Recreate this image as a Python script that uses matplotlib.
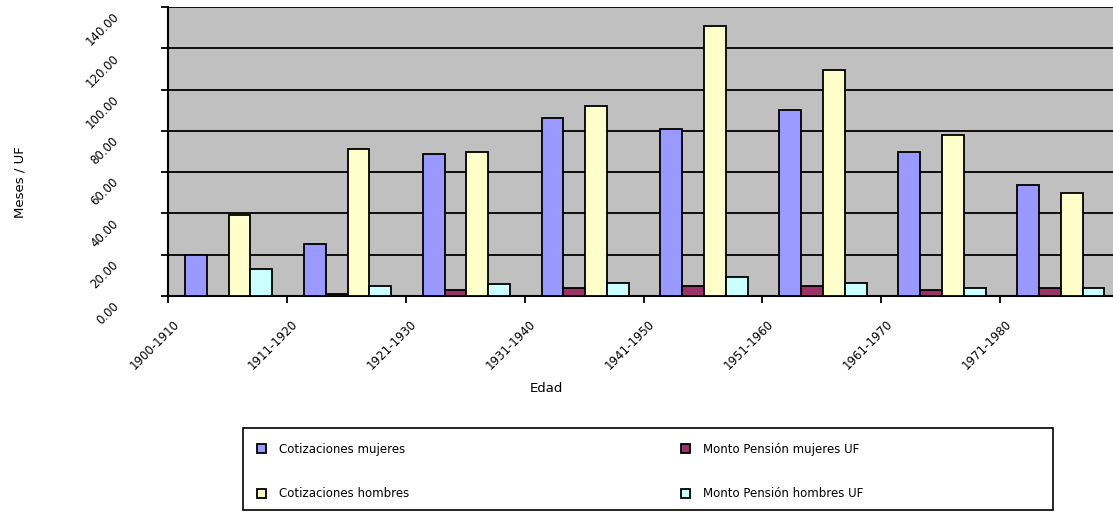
import numpy as np
import matplotlib.pyplot as plt
from matplotlib.patches import Rectangle
from matplotlib.transforms import ScaledTranslation

# age groups and the four series
grupos = ['1900-1910', '1911-1920', '1921-1930', '1931-1940',
          '1941-1950', '1951-1960', '1961-1970', '1971-1980']
cot_mujeres = [20.0, 25.0, 69.0, 86.0, 81.0, 90.0, 70.0, 54.0]
monto_mujeres = [0.0, 1.0, 3.0, 4.0, 5.0, 5.0, 3.0, 4.0]
cot_hombres = [39.0, 71.0, 70.0, 92.0, 131.0, 109.5, 78.0, 50.0]
monto_hombres = [13.3, 5.0, 6.0, 6.2, 9.0, 6.2, 4.0, 4.0]

series = [
    ('Cotizaciones mujeres', cot_mujeres, '#9999FF'),
    ('Monto Pensión mujeres UF', monto_mujeres, '#993366'),
    ('Cotizaciones hombres', cot_hombres, '#FFFFCC'),
    ('Monto Pensión hombres UF', monto_hombres, '#CCFFFF'),
]

W, H = 1113, 512
fig = plt.figure(figsize=(W / 100, H / 100), dpi=100)
ax = fig.add_axes([168 / W, 216 / H, 951 / W, 289 / H])
ax.set_facecolor('#C0C0C0')

x = np.arange(len(grupos))
w = 0.184
bars = []
for j, (nombre, vals, col) in enumerate(series):
    b = ax.bar(x + 0.51 + (j - 1.5) * w, vals, w, color=col,
               edgecolor='black', linewidth=1.3, label=nombre, zorder=3)
    bars.append(b)

ax.set_xlim(0, len(grupos))
ax.set_ylim(0, 140)
yt = np.arange(0, 141, 20)
ax.set_yticks(yt)
ax.set_yticklabels(['%.2f' % v for v in yt], fontsize=8.5)
ax.set_xticks(x)
ax.set_xticklabels(grupos, fontsize=8.5)
ax.grid(axis='y', color='black', linewidth=1.3, zorder=1)
ax.set_axisbelow(True)

for s in ['top', 'right']:
    ax.spines[s].set_visible(False)
for s in ['left', 'bottom']:
    ax.spines[s].set_linewidth(1.5)
ax.tick_params(axis='both', direction='out', length=5, width=1.3)
ax.tick_params(axis='y', pad=32)
ax.tick_params(axis='x', pad=14)

# rotated tick labels, shifted like the old spreadsheet layout
for lab in ax.get_yticklabels():
    lab.set_rotation(45)
    lab.set_rotation_mode('anchor')
    lab.set_ha('right')
    lab.set_va('center')
    lab.set_transform(lab.get_transform() + ScaledTranslation(0, -0.08, fig.dpi_scale_trans))
for lab in ax.get_xticklabels():
    lab.set_rotation(45)
    lab.set_rotation_mode('anchor')
    lab.set_ha('right')
    lab.set_va('center')
    lab.set_transform(lab.get_transform() + ScaledTranslation(0.09, 0, fig.dpi_scale_trans))

fig.text(20 / W, 1 - 182 / H, 'Meses / UF', rotation=90, ha='center', va='center', fontsize=9.5)
fig.text(546 / W, 1 - 388 / H, 'Edad', ha='center', va='center', fontsize=9.5)

# legend box
fig.add_artist(Rectangle((243 / W, 2 / H), 810 / W, 82 / H, transform=fig.transFigure,
                         facecolor='white', edgecolor='black', linewidth=1.2))
opts = dict(frameon=False, fontsize=8.5, handlelength=0.8, handleheight=0.8,
            handletextpad=1.1, labelspacing=2.65, borderpad=0, borderaxespad=0,
            loc='upper left')
fig.legend([bars[0], bars[2]], [series[0][0], series[2][0]],
           bbox_to_anchor=(257 / W, 1 - 443 / H), **opts)
fig.legend([bars[1], bars[3]], [series[1][0], series[3][0]],
           bbox_to_anchor=(681 / W, 1 - 443 / H), **opts)

fig.savefig('out.png', dpi=100)
